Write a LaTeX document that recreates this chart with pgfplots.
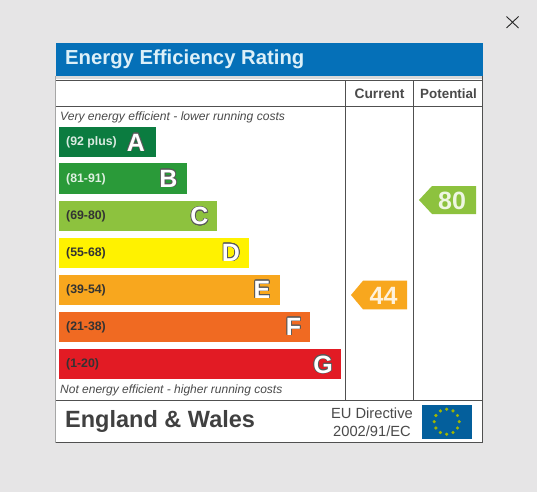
\documentclass[border=0pt]{standalone}
\usepackage{fontspec}
\setmainfont{Liberation Sans}
\usepackage{pgfplots}
\pgfplotsset{compat=1.18}
\usepackage{contour}
\contourlength{0.7pt}
\definecolor{bgc}{HTML}{E6E5E6}
\definecolor{bluec}{HTML}{0570B8}
\definecolor{linec}{HTML}{505050}
\definecolor{ca}{HTML}{0B7C40}
\definecolor{cb}{HTML}{2A9A39}
\definecolor{cc}{HTML}{8DC23E}
\definecolor{cd}{HTML}{FFF200}
\definecolor{ce}{HTML}{F8A71E}
\definecolor{cf}{HTML}{F06A22}
\definecolor{cg}{HTML}{E21B24}
\definecolor{titlec}{HTML}{DDF0F8}
\definecolor{txt}{HTML}{4A4A4A}
\newcommand{\fs}[1]{\fontsize{#1}{#1}\selectfont}
\newcommand{\lett}[1]{\textcolor{white}{\contour{black!65}{\bfseries #1}}}
\begin{document}
\begin{tikzpicture}[x=1pt,y=-1pt]
\fill[bgc] (0,0) rectangle (537,492);
\fill[white] (55.5,43) rectangle (482.5,442.5);
\fill[bluec] (55.5,43) rectangle (482.5,76);
\fill[white!85!black] (55.5,76) rectangle (482.5,79);
\draw[linec,line width=1.3pt] (55.5,80.3) -- (482.5,80.3);
\draw[linec,line width=1.3pt] (55.5,106.7) -- (482.5,106.7);
\draw[linec,line width=1.3pt] (345.2,80.3) -- (345.2,400.8);
\draw[linec,line width=1.3pt] (413.8,80.3) -- (413.8,400.8);
\draw[linec,line width=1.3pt] (55.5,400.8) -- (482.5,400.8);
\draw[linec,line width=1.3pt] (482.5,76) -- (482.5,442.5) -- (55.5,442.5);
\draw[black!35,line width=0.6pt] (55.5,76) -- (55.5,442.5);
\draw[black!85,line width=0.9pt] (506.5,16.5) -- (518.5,28) (518.5,16.5) -- (506.5,28);
\begin{axis}[at={(0,492)},anchor=south west,scale only axis,width=537pt,height=492pt,
  xmin=-59,xmax=478,ymin=0,ymax=492,y dir=reverse,hide axis,clip=false]
\addplot[xbar,bar width=30.5pt,bar shift=0pt,fill=ca,draw=none] coordinates {(97,142)};
\addplot[xbar,bar width=30.5pt,bar shift=0pt,fill=cb,draw=none] coordinates {(128,178.5)};
\addplot[xbar,bar width=30.5pt,bar shift=0pt,fill=cc,draw=none] coordinates {(158,216)};
\addplot[xbar,bar width=30.5pt,bar shift=0pt,fill=cd,draw=none] coordinates {(190,253)};
\addplot[xbar,bar width=30.5pt,bar shift=0pt,fill=ce,draw=none] coordinates {(221,290)};
\addplot[xbar,bar width=30.5pt,bar shift=0pt,fill=cf,draw=none] coordinates {(251,327)};
\addplot[xbar,bar width=30.5pt,bar shift=0pt,fill=cg,draw=none] coordinates {(282,364)};
% rating tags
\addplot[fill=cc,draw=none] coordinates {(360,200) (373,186) (417,186) (417,214) (373,214)} -- cycle;
\addplot[fill=ce,draw=none] coordinates {(292,295) (304,280.7) (348,280.7) (348,309.3) (304,309.3)} -- cycle;
\addplot[fill=bluec!85!black,draw=none] coordinates {(362.7,405) (413.3,405) (413.3,439) (362.7,439)} -- cycle;
\addplot[only marks,mark=*,mark size=1.4pt,color=cd!85!green!75!black,mark options={draw=none}] coordinates {
 (387.7,409.2)(394,410.9)(398.5,415.5)(400.2,421.7)(398.5,428)(394,432.5)(387.7,434.2)(381.4,432.5)(376.9,428)(375.2,421.7)(376.9,415.5)(381.4,410.9)};
\end{axis}
% header
\node[anchor=west,text=titlec,inner sep=0pt] at (65,59) {\fs{20.3}\bfseries Energy Efficiency Rating};
\node[text=txt,inner sep=0pt] at (379.5,94) {\fs{13.8}\bfseries Current};
\node[text=txt,inner sep=0pt] at (448.5,94) {\fs{13.4}\bfseries Potential};
\node[anchor=west,text=txt,inner sep=0pt] at (60,117) {\fs{12.1}\itshape Very energy efficient - lower running costs};
\node[anchor=west,text=txt,inner sep=0pt] at (60,390.5) {\fs{12}\itshape Not energy efficient - higher running costs};
% ranges
\node[anchor=west,text=white!85!ca,inner sep=0pt] at (66,142) {\fs{12.3}\bfseries (92 plus)};
\node[anchor=west,text=white!85!cb,inner sep=0pt] at (66,179) {\fs{12.3}\bfseries (81-91)};
\node[anchor=west,text=black!80,inner sep=0pt] at (66,216) {\fs{12.3}\bfseries (69-80)};
\node[anchor=west,text=black!80,inner sep=0pt] at (66,253) {\fs{12.3}\bfseries (55-68)};
\node[anchor=west,text=black!80,inner sep=0pt] at (66,290) {\fs{12.3}\bfseries (39-54)};
\node[anchor=west,text=black!80,inner sep=0pt] at (66,327) {\fs{12.3}\bfseries (21-38)};
\node[anchor=west,text=black!80,inner sep=0pt] at (66,364) {\fs{12.3}\bfseries (1-20)};
% letters
\node[inner sep=0pt] at (136,143) {\fs{25}\lett{A}};
\node[inner sep=0pt] at (168.5,179) {\fs{25}\lett{B}};
\node[inner sep=0pt] at (199.5,216.5) {\fs{25}\lett{C}};
\node[inner sep=0pt] at (231,253) {\fs{25}\lett{D}};
\node[inner sep=0pt] at (262,290) {\fs{25}\lett{E}};
\node[inner sep=0pt] at (293.5,327) {\fs{25}\lett{F}};
\node[inner sep=0pt] at (323,365) {\fs{25}\lett{G}};
% tag values
\node[text=white!85!cc,inner sep=0pt] at (452,201) {\fs{25}\bfseries 80};
\node[text=white!85!ce,inner sep=0pt] at (383.5,296) {\fs{25}\bfseries 44};
% footer
\node[anchor=west,text=black!75,inner sep=0pt] at (65,421.5) {\fs{23.5}\bfseries England \& Wales};
\node[anchor=east,text=txt,inner sep=0pt] at (413,413) {\fs{14.7}EU Directive};
\node[anchor=east,text=txt,inner sep=0pt] at (411,431) {\fs{14.7}2002/91/EC};
\end{tikzpicture}
\end{document}
